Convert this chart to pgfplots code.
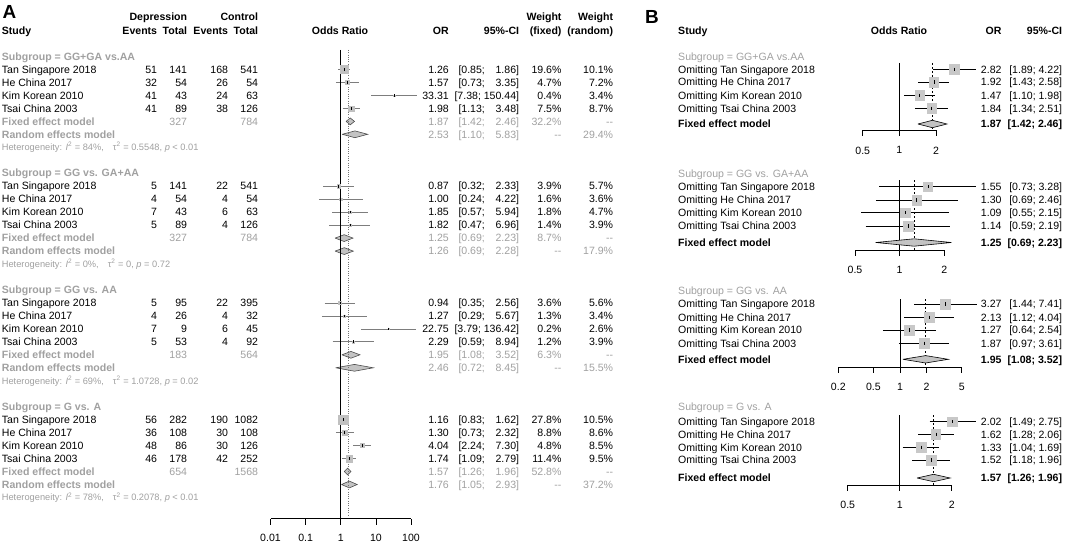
\documentclass[border=0pt]{standalone}
\usepackage{fontspec}
\setmainfont{Liberation Sans}
\usepackage{pgfplots}
\pgfplotsset{compat=1.18}
\definecolor{tg}{RGB}{160,160,160}
\definecolor{sq}{RGB}{192,192,192}
\definecolor{sqB}{RGB}{200,200,200}
\definecolor{ln}{RGB}{125,125,125}
\definecolor{dm}{RGB}{195,195,195}
\newcommand\fnt{\fontsize{10.6}{12}\selectfont}
\newcommand\sfnt{\fontsize{9.3}{10}\selectfont}
\pgfplotsset{forestax/.style={scale only axis, axis y line=none, axis x line*=bottom,
  x axis line style={-,line width=0.6pt}, tick align=outside, major tick length=5.5bp,
  xminorticks=false, clip=false, xtick style={black,line width=0.6pt},
  xticklabel style={font=\fnt, inner sep=0pt}}}
% text helpers: y = row centre in pixels from top
\newcommand\Lt[4][]{\node[anchor=base west,#1] at (#2,{-#3-3.8}) {#4};}
\newcommand\Rt[4][]{\node[anchor=base east,#1] at (#2,{-#3-3.8}) {#4};}
\newcommand\Ct[4][]{\node[anchor=base,#1] at (#2,{-#3-3.8}) {#4};}
\newcommand\ArowL[6]{\Lt{1.7}{#1}{#2}\Rt{157.3}{#1}{#3}\Rt{187.3}{#1}{#4}\Rt{228.3}{#1}{#5}\Rt{258.3}{#1}{#6}}
\newcommand\ArowR[6]{\Rt{449}{#1}{#2}\Lt{458.3}{#1}{[#3;}\Rt{519.3}{#1}{#4]}\Rt{561.7}{#1}{#5}\Rt{613.3}{#1}{#6}}
\newcommand\Brow[5]{\Lt{678}{#1}{Omitting #2}\Rt{1001.7}{#1}{#3}\Rt{1062.3}{#1}{[#4; #5]}}
\newcommand\Het[4]{\node[anchor=base west,font=\sfnt] at (1.7,{-#1-3.3}) {Heterogeneity: \textit{I}\textsuperscript{2} = #2,\hspace{9bp}τ\textsuperscript{2} = #3, #4};}
% plot helpers
\newcommand\stA[5]{% y, or, lo, hi, half side
 \addplot[only marks, mark=square*, mark size=#5, color=sq] coordinates {(#2,-#1)};
 \addplot[ln, line width=0.8pt] coordinates {(#3,-#1) (#4,-#1)};
 \addplot[only marks, mark=|, mark size=1.4, black, line width=0.6pt] coordinates {(#2,-#1)};}
\newcommand\stB[4]{% y, or, lo, hi
 \addplot[only marks, mark=square*, mark size=4.8, color=sqB] coordinates {(#2,-#1)};
 \addplot[black, line width=0.6pt] coordinates {(#3,-#1) (#4,-#1)};
 \addplot[only marks, mark=|, mark size=1.6, black, line width=0.5pt] coordinates {(#2,-#1)};}
\begin{document}
\begin{tikzpicture}[x=1bp,y=1bp]
\useasboundingbox (0,0) rectangle (1065,-544);

%================ PANEL A plot
\begin{axis}[xmode=log, forestax, at={(270.5bp,-518.5bp)}, anchor=south west, width=140.5bp, height=473.5bp,
  xmin=0.01, xmax=100, ymin=-518.5, ymax=-45, major tick length=6bp,
  xtick={0.01,0.1,1,10,100}, xticklabels={0.01,0.1,1,10,100},
  xticklabel style={yshift=-9.7bp}]
 \stA{69.5}{1.26}{0.85}{1.86}{4.20}
 \stA{82.4}{1.57}{0.73}{3.35}{2.06}
 \stA{95.4}{33.31}{7.38}{150.44}{0.60}
 \stA{108.4}{1.98}{1.13}{3.48}{2.60}
 \stA{186.2}{0.87}{0.32}{2.33}{1.87}
 \stA{199.2}{1.00}{0.24}{4.22}{1.20}
 \stA{212.1}{1.85}{0.57}{5.94}{1.27}
 \stA{225.1}{1.82}{0.47}{6.96}{1.12}
 \stA{302.9}{0.94}{0.35}{2.56}{1.80}
 \stA{315.9}{1.27}{0.29}{5.67}{1.08}
 \stA{328.9}{22.75}{3.79}{136.42}{0.42}
 \stA{341.8}{2.29}{0.59}{8.94}{1.04}
 \stA{419.7}{1.16}{0.83}{1.62}{5.00}
 \stA{432.6}{1.30}{0.73}{2.32}{2.81}
 \stA{445.6}{4.04}{2.24}{7.30}{2.08}
 \stA{458.6}{1.74}{1.09}{2.79}{3.20}
 \addplot[fill=dm, draw=black!70, line width=0.6pt] coordinates {(1.42,-121.4) (1.87,-118.0) (2.46,-121.4) (1.87,-124.8) (1.42,-121.4)};
 \addplot[fill=dm, draw=black!70, line width=0.6pt] coordinates {(1.10,-134.3) (2.53,-130.9) (5.83,-134.3) (2.53,-137.7) (1.10,-134.3)};
 \addplot[fill=dm, draw=black!70, line width=0.6pt] coordinates {(0.69,-238.1) (1.25,-234.7) (2.23,-238.1) (1.25,-241.5) (0.69,-238.1)};
 \addplot[fill=dm, draw=black!70, line width=0.6pt] coordinates {(0.69,-251.1) (1.26,-247.7) (2.28,-251.1) (1.26,-254.5) (0.69,-251.1)};
 \addplot[fill=dm, draw=black!70, line width=0.6pt] coordinates {(1.08,-354.8) (1.95,-351.4) (3.52,-354.8) (1.95,-358.2) (1.08,-354.8)};
 \addplot[fill=dm, draw=black!70, line width=0.6pt] coordinates {(0.72,-367.8) (2.46,-364.4) (8.45,-367.8) (2.46,-371.2) (0.72,-367.8)};
 \addplot[fill=dm, draw=black!70, line width=0.6pt] coordinates {(1.26,-471.5) (1.57,-468.1) (1.96,-471.5) (1.57,-474.9) (1.26,-471.5)};
 \addplot[fill=dm, draw=black!70, line width=0.6pt] coordinates {(1.05,-484.5) (1.76,-481.1) (2.93,-484.5) (1.76,-487.9) (1.05,-484.5)};
 \addplot[black, line width=0.6pt] coordinates {(1,-50) (1,-518.5)};
 \addplot[black!55, line width=0.7pt, dash pattern=on 1bp off 1.3bp] coordinates {(1.63,-50) (1.63,-516)};
\end{axis}

%================ PANEL B plots
\begin{axis}[xmode=log, forestax, at={(862.7bp,-130.5bp)}, anchor=south west, width=73.3bp, height=74.5bp,
  xmin=0.5, xmax=2, ymin=-130.5, ymax=-56, xtick={0.5,1,2}, xticklabels={0.5,1,2},
  xticklabel style={yshift=-10.5bp}]
 \stB{69.3}{2.82}{1.89}{4.22}
 \stB{82}{1.92}{1.43}{2.58}
 \stB{95.3}{1.47}{1.10}{1.98}
 \stB{108.3}{1.84}{1.34}{2.51}
 \addplot[black, line width=0.6pt] coordinates {(1,-63) (1,-130.5)};
 \addplot[black, line width=0.6pt, dash pattern=on 2bp off 2bp] coordinates {(1.87,-63) (1.87,-130.5)};
 \addplot[fill=dm, draw=black, line width=0.6pt] coordinates {(1.42,-124.0) (1.87,-120.3) (2.46,-124.0) (1.87,-127.7) (1.42,-124.0)};
\end{axis}
\begin{axis}[xmode=log, forestax, at={(855bp,-250bp)}, anchor=south west, width=89.3bp, height=78bp,
  xmin=0.5, xmax=2, ymin=-250, ymax=-172, xtick={0.5,1,2}, xticklabels={0.5,1,2},
  xticklabel style={yshift=-10.5bp}]
 \stB{186.7}{1.55}{0.73}{3.28}
 \stB{200}{1.30}{0.69}{2.46}
 \stB{212.7}{1.09}{0.55}{2.15}
 \stB{226}{1.14}{0.59}{2.19}
 \addplot[black, line width=0.6pt] coordinates {(1,-180) (1,-250)};
 \addplot[black, line width=0.6pt, dash pattern=on 2bp off 2bp] coordinates {(1.25,-180) (1.25,-250)};
 \addplot[fill=dm, draw=black, line width=0.6pt] coordinates {(0.69,-242.5) (1.25,-238.8) (2.23,-242.5) (1.25,-246.2) (0.69,-242.5)};
\end{axis}
\begin{axis}[xmode=log, forestax, at={(838.3bp,-367bp)}, anchor=south west, width=123.4bp, height=78bp,
  xmin=0.2, xmax=5, ymin=-367, ymax=-289, xtick={0.2,0.5,1,2,5}, xticklabels={0.2,0.5,1,2,5},
  xticklabel style={yshift=-10.5bp}]
 \stB{304}{3.27}{1.44}{7.41}
 \stB{317.3}{2.13}{1.12}{4.04}
 \stB{330}{1.27}{0.64}{2.54}
 \stB{343.3}{1.87}{0.97}{3.61}
 \addplot[black, line width=0.6pt] coordinates {(1,-299) (1,-367)};
 \addplot[black, line width=0.6pt, dash pattern=on 2bp off 2bp] coordinates {(1.95,-299) (1.95,-367)};
 \addplot[fill=dm, draw=black, line width=0.6pt] coordinates {(1.08,-359.3) (1.95,-355.6) (3.52,-359.3) (1.95,-363.0) (1.08,-359.3)};
\end{axis}
\begin{axis}[xmode=log, forestax, at={(847.7bp,-485bp)}, anchor=south west, width=104bp, height=80bp,
  xmin=0.5, xmax=2, ymin=-485, ymax=-405, xtick={0.5,1,2}, xticklabels={0.5,1,2},
  xticklabel style={yshift=-10.5bp}]
 \stB{421.7}{2.02}{1.49}{2.75}
 \stB{434.3}{1.62}{1.28}{2.06}
 \stB{447.3}{1.33}{1.04}{1.69}
 \stB{460}{1.52}{1.18}{1.96}
 \addplot[black, line width=0.6pt] coordinates {(1,-415) (1,-485)};
 \addplot[black, line width=0.6pt, dash pattern=on 2bp off 2bp] coordinates {(1.57,-415) (1.57,-485)};
 \addplot[fill=dm, draw=black, line width=0.6pt] coordinates {(1.26,-478.0) (1.57,-474.3) (1.96,-478.0) (1.57,-481.7) (1.26,-478.0)};
\end{axis}

%================ TEXT
\begin{scope}[every node/.style={inner sep=0pt, font=\fnt}]
\node[anchor=base west, font=\fontsize{19}{20}\selectfont\bfseries] at (2.5,-18.3) {A};
\node[anchor=base west, font=\fontsize{19}{20}\selectfont\bfseries] at (645,-24) {B};
\begin{scope}[every node/.append style={font=\fnt\bfseries}]
 \Rt{187.3}{16.7}{Depression}\Rt{258.3}{16.7}{Control}
 \Rt{561.7}{16.7}{Weight}\Rt{613.3}{16.7}{Weight}
 \Lt{1.7}{30.7}{Study}\Rt{157.3}{30.7}{Events}\Rt{187.3}{30.7}{Total}
 \Rt{228.3}{30.7}{Events}\Rt{258.3}{30.7}{Total}
 \Ct{340}{30.7}{Odds Ratio}\Rt{449}{30.7}{OR}\Rt{519.3}{30.7}{95\%-CI}
 \Rt{561.7}{30.7}{(fixed)}\Rt{613.3}{30.7}{(random)}
 \Lt{678}{30.7}{Study}\Ct{899}{30.7}{Odds Ratio}\Rt{1001.7}{30.7}{OR}\Rt{1062.3}{30.7}{95\%-CI}
\end{scope}
% --- subgroup 1
\Lt[text=tg,font=\fnt\bfseries]{1.7}{56.5}{Subgroup = GG+GA vs.AA}
\ArowL{69.5}{Tan Singapore 2018}{51}{141}{168}{541}\ArowR{69.5}{1.26}{0.85}{1.86}{19.6\%}{10.1\%}
\ArowL{82.4}{He China 2017}{32}{54}{26}{54}\ArowR{82.4}{1.57}{0.73}{3.35}{4.7\%}{7.2\%}
\ArowL{95.4}{Kim Korean 2010}{41}{43}{24}{63}
\Rt{449}{95.4}{33.31}\Rt{519.3}{95.4}{[7.38; 150.44]}\Rt{561.7}{95.4}{0.4\%}\Rt{613.3}{95.4}{3.4\%}
\ArowL{108.4}{Tsai China 2003}{41}{89}{38}{126}\ArowR{108.4}{1.98}{1.13}{3.48}{7.5\%}{8.7\%}
\begin{scope}[every node/.append style={text=tg}]
 \Lt[font=\fnt\bfseries]{1.7}{121.4}{Fixed effect model}\Rt{187.3}{121.4}{327}\Rt{258.3}{121.4}{784}
 \ArowR{121.4}{1.87}{1.42}{2.46}{32.2\%}{-{}-}
 \Lt[font=\fnt\bfseries]{1.7}{134.3}{Random effects model}
 \ArowR{134.3}{2.53}{1.10}{5.83}{-{}-}{29.4\%}
 \Het{147.3}{84\%}{0.5548}{\textit{p} < 0.01}
\end{scope}
% --- subgroup 2
\Lt[text=tg,font=\fnt\bfseries]{1.7}{173.2}{Subgroup = GG vs. GA+AA}
\ArowL{186.2}{Tan Singapore 2018}{5}{141}{22}{541}\ArowR{186.2}{0.87}{0.32}{2.33}{3.9\%}{5.7\%}
\ArowL{199.2}{He China 2017}{4}{54}{4}{54}\ArowR{199.2}{1.00}{0.24}{4.22}{1.6\%}{3.6\%}
\ArowL{212.1}{Kim Korean 2010}{7}{43}{6}{63}\ArowR{212.1}{1.85}{0.57}{5.94}{1.8\%}{4.7\%}
\ArowL{225.1}{Tsai China 2003}{5}{89}{4}{126}\ArowR{225.1}{1.82}{0.47}{6.96}{1.4\%}{3.9\%}
\begin{scope}[every node/.append style={text=tg}]
 \Lt[font=\fnt\bfseries]{1.7}{238.1}{Fixed effect model}\Rt{187.3}{238.1}{327}\Rt{258.3}{238.1}{784}
 \ArowR{238.1}{1.25}{0.69}{2.23}{8.7\%}{-{}-}
 \Lt[font=\fnt\bfseries]{1.7}{251.1}{Random effects model}
 \ArowR{251.1}{1.26}{0.69}{2.28}{-{}-}{17.9\%}
 \Het{264.0}{0\%}{0}{\textit{p} = 0.72}
\end{scope}
% --- subgroup 3
\Lt[text=tg,font=\fnt\bfseries]{1.7}{290.0}{Subgroup = GG vs. AA}
\ArowL{302.9}{Tan Singapore 2018}{5}{95}{22}{395}\ArowR{302.9}{0.94}{0.35}{2.56}{3.6\%}{5.6\%}
\ArowL{315.9}{He China 2017}{4}{26}{4}{32}\ArowR{315.9}{1.27}{0.29}{5.67}{1.3\%}{3.4\%}
\ArowL{328.9}{Kim Korean 2010}{7}{9}{6}{45}
\Rt{449}{328.9}{22.75}\Rt{519.3}{328.9}{[3.79; 136.42]}\Rt{561.7}{328.9}{0.2\%}\Rt{613.3}{328.9}{2.6\%}
\ArowL{341.8}{Tsai China 2003}{5}{53}{4}{92}\ArowR{341.8}{2.29}{0.59}{8.94}{1.2\%}{3.9\%}
\begin{scope}[every node/.append style={text=tg}]
 \Lt[font=\fnt\bfseries]{1.7}{354.8}{Fixed effect model}\Rt{187.3}{354.8}{183}\Rt{258.3}{354.8}{564}
 \ArowR{354.8}{1.95}{1.08}{3.52}{6.3\%}{-{}-}
 \Lt[font=\fnt\bfseries]{1.7}{367.8}{Random effects model}
 \ArowR{367.8}{2.46}{0.72}{8.45}{-{}-}{15.5\%}
 \Het{381.2}{69\%}{1.0728}{\textit{p} = 0.02}
\end{scope}
% --- subgroup 4
\Lt[text=tg,font=\fnt\bfseries]{1.7}{406.7}{Subgroup = G vs. A}
\ArowL{419.7}{Tan Singapore 2018}{56}{282}{190}{1082}\ArowR{419.7}{1.16}{0.83}{1.62}{27.8\%}{10.5\%}
\ArowL{432.6}{He China 2017}{36}{108}{30}{108}\ArowR{432.6}{1.30}{0.73}{2.32}{8.8\%}{8.6\%}
\ArowL{445.6}{Kim Korean 2010}{48}{86}{30}{126}\ArowR{445.6}{4.04}{2.24}{7.30}{4.8\%}{8.5\%}
\ArowL{458.6}{Tsai China 2003}{46}{178}{42}{252}\ArowR{458.6}{1.74}{1.09}{2.79}{11.4\%}{9.5\%}
\begin{scope}[every node/.append style={text=tg}]
 \Lt[font=\fnt\bfseries]{1.7}{471.5}{Fixed effect model}\Rt{187.3}{471.5}{654}\Rt{258.3}{471.5}{1568}
 \ArowR{471.5}{1.57}{1.26}{1.96}{52.8\%}{-{}-}
 \Lt[font=\fnt\bfseries]{1.7}{484.5}{Random effects model}
 \ArowR{484.5}{1.76}{1.05}{2.93}{-{}-}{37.2\%}
 \Het{497.6}{78\%}{0.2078}{\textit{p} < 0.01}
\end{scope}

%--- PANEL B text
\Lt[text=tg]{678}{56.7}{Subgroup = GG+GA vs.AA}
\Brow{69.3}{Tan Singapore 2018}{2.82}{1.89}{4.22}
\Brow{82}{He China 2017}{1.92}{1.43}{2.58}
\Brow{95.3}{Kim Korean 2010}{1.47}{1.10}{1.98}
\Brow{108.3}{Tsai China 2003}{1.84}{1.34}{2.51}
\begin{scope}[every node/.append style={font=\fnt\bfseries}]
 \Lt{678}{124.0}{Fixed effect model}\Rt{1001.7}{124.0}{1.87}\Rt{1062.3}{124.0}{[1.42; 2.46]}
\end{scope}
\Lt[text=tg]{678}{173.3}{Subgroup = GG vs. GA+AA}
\Brow{186.7}{Tan Singapore 2018}{1.55}{0.73}{3.28}
\Brow{200}{He China 2017}{1.30}{0.69}{2.46}
\Brow{212.7}{Kim Korean 2010}{1.09}{0.55}{2.15}
\Brow{226}{Tsai China 2003}{1.14}{0.59}{2.19}
\begin{scope}[every node/.append style={font=\fnt\bfseries}]
 \Lt{678}{242.5}{Fixed effect model}\Rt{1001.7}{242.5}{1.25}\Rt{1062.3}{242.5}{[0.69; 2.23]}
\end{scope}
\Lt[text=tg]{678}{290.7}{Subgroup = GG vs. AA}
\Brow{304}{Tan Singapore 2018}{3.27}{1.44}{7.41}
\Brow{317.3}{He China 2017}{2.13}{1.12}{4.04}
\Brow{330}{Kim Korean 2010}{1.27}{0.64}{2.54}
\Brow{343.3}{Tsai China 2003}{1.87}{0.97}{3.61}
\begin{scope}[every node/.append style={font=\fnt\bfseries}]
 \Lt{678}{359.3}{Fixed effect model}\Rt{1001.7}{359.3}{1.95}\Rt{1062.3}{359.3}{[1.08; 3.52]}
\end{scope}
\Lt[text=tg]{678}{406.7}{Subgroup = G vs. A}
\Brow{421.7}{Tan Singapore 2018}{2.02}{1.49}{2.75}
\Brow{434.3}{He China 2017}{1.62}{1.28}{2.06}
\Brow{447.3}{Kim Korean 2010}{1.33}{1.04}{1.69}
\Brow{460}{Tsai China 2003}{1.52}{1.18}{1.96}
\begin{scope}[every node/.append style={font=\fnt\bfseries}]
 \Lt{678}{478.0}{Fixed effect model}\Rt{1001.7}{478.0}{1.57}\Rt{1062.3}{478.0}{[1.26; 1.96]}
\end{scope}
\end{scope}
\end{tikzpicture}
\end{document}
